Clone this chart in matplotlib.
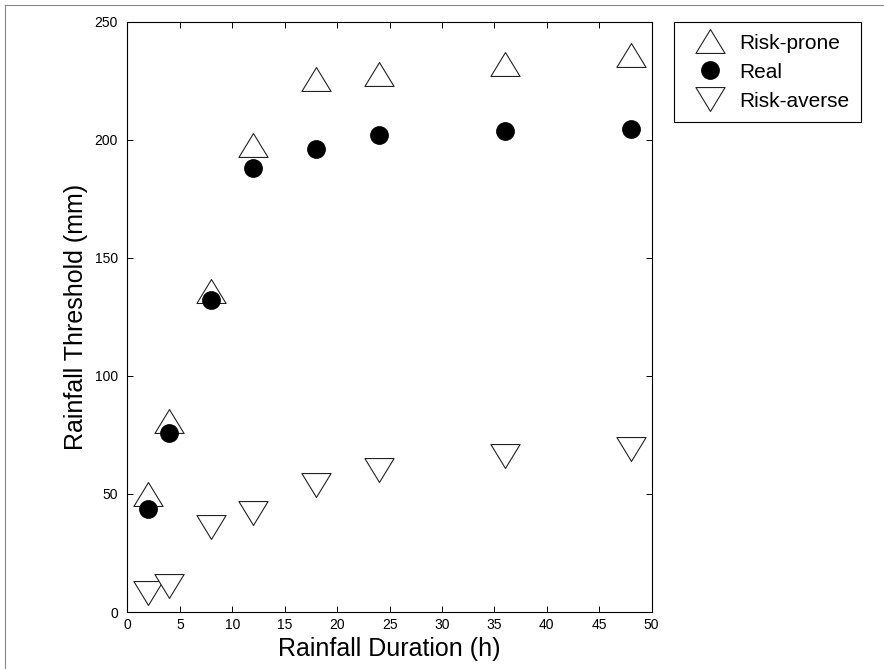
"""Rainfall threshold vs. rainfall duration for three risk attitudes."""

import matplotlib
matplotlib.use("Agg")
import matplotlib.pyplot as plt
from matplotlib.path import Path
from matplotlib.lines import Line2D

plt.rcParams["font.family"] = ["Liberation Sans", "DejaVu Sans"]

# values
duration_h = [2, 4, 8, 12, 18, 24, 36, 48]
risk_prone = [50, 81, 136, 198, 226, 228, 232, 236]
real = [43.5, 76, 132, 188, 196, 202, 204, 204.5]
risk_averse = [8, 11, 36, 42, 54, 60, 66, 69]

xticks = [0, 5, 10, 15, 20, 25, 30, 35, 40, 45, 50]
yticks = [0, 50, 100, 150, 200, 250]

# MATLAB-style triangles are a little wider than tall
tri_up = Path([(0, 0.82), (-1, -0.82), (1, -0.82), (0, 0.82)],
              [Path.MOVETO, Path.LINETO, Path.LINETO, Path.CLOSEPOLY])
tri_down = Path([(0, -0.82), (-1, 0.82), (1, 0.82), (0, -0.82)],
                [Path.MOVETO, Path.LINETO, Path.LINETO, Path.CLOSEPOLY])

fig = plt.figure(figsize=(8.84, 6.69), dpi=100)
ax = fig.add_axes([0.1442, 0.0852, 0.593, 0.882])

ax.plot(duration_h, risk_prone, linestyle="none", marker=tri_up, markersize=21,
        markerfacecolor="white", markeredgecolor="#222222", markeredgewidth=0.8,
        label="Risk-prone")
ax.plot(duration_h, real, linestyle="none", marker="o", markersize=12.5,
        markerfacecolor="black", markeredgecolor="black", label="Real")
ax.plot(duration_h, risk_averse, linestyle="none", marker=tri_down, markersize=21,
        markerfacecolor="white", markeredgecolor="#222222", markeredgewidth=0.8,
        label="Risk-averse")

ax.set_xlim(0, 50)
ax.set_ylim(0, 250)
ax.set_xticks(xticks)
ax.set_yticks(yticks)
ax.tick_params(direction="in", length=4, width=0.7, top=True, right=True,
               labelsize=10, colors="black")
ax.tick_params(axis="x", pad=4)
ax.tick_params(axis="y", pad=7)
for sp in ax.spines.values():
    sp.set_linewidth(0.8)
    sp.set_color("black")

ax.set_xlabel("Rainfall Duration (h)", fontsize=18)
ax.set_ylabel("Rainfall Threshold (mm)", fontsize=18)
ax.xaxis.set_label_coords(0.5, -0.042)
ax.yaxis.set_label_coords(-0.076, 0.5)

leg = ax.legend(loc="upper left", bbox_to_anchor=(0.7624, 0.967),
                bbox_transform=fig.transFigure, borderaxespad=0,
                fontsize=15, fancybox=False, framealpha=1, edgecolor="black",
                handlelength=2.4, handletextpad=0.2, labelspacing=0.48,
                borderpad=0.55)
leg.get_frame().set_linewidth(0.8)

# thin grey window border (top and left) seen in the screenshot
W, H = 884, 669
fig.add_artist(Line2D([5 / W, 1], [1 - 5 / H, 1 - 5 / H], transform=fig.transFigure,
                      color="#888888", linewidth=0.8))
fig.add_artist(Line2D([5 / W, 5 / W], [0, 1 - 5 / H], transform=fig.transFigure,
                      color="#888888", linewidth=0.8))

fig.savefig("out.png", dpi=100)
